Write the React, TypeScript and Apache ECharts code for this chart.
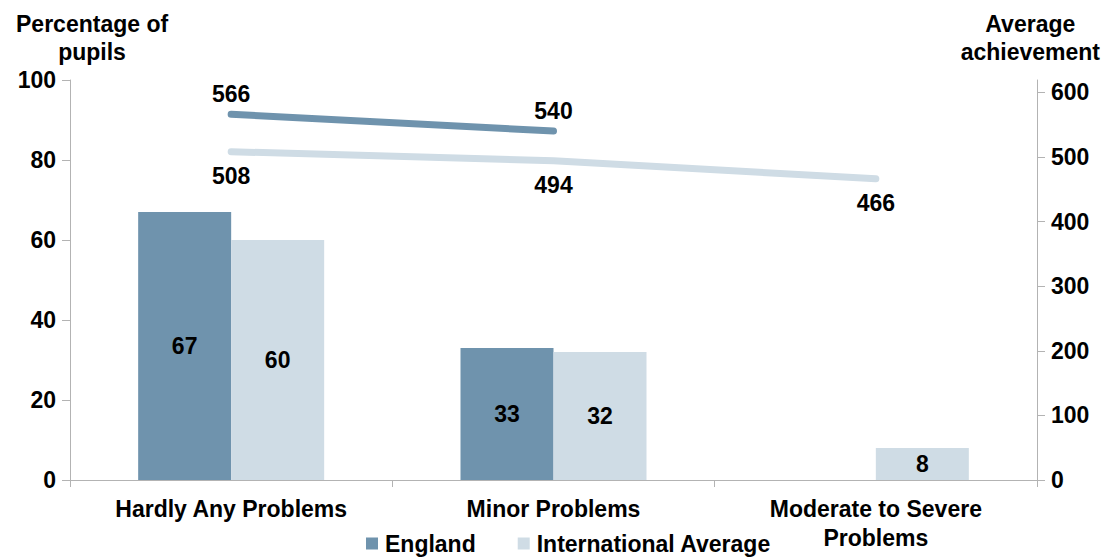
import React, { useEffect, useRef } from "react";
import * as echarts from "echarts";

const categories = ["Hardly Any Problems", "Minor Problems", "Moderate to Severe\nProblems"];
const englandPct = [67, 33, null];
const intlPct = [60, 32, 8];
const englandAch = [566, 540, null];
const intlAch = [508, 494, 466];
const leftTicks = [0, 20, 40, 60, 80, 100];
const rightTicks = [0, 100, 200, 300, 400, 500, 600];

const FONT = "'Liberation Sans', Arial, sans-serif";
const C_ENG = "#6f93ad";
const C_INT = "#cfdce5";
const AXIS = "#b3b3b3";

export default function App() {
  const ref = useRef<HTMLDivElement>(null);
  useEffect(() => {
    if (!ref.current) return;
    const chart = echarts.init(ref.current, undefined, { renderer: "svg" });
    const txt = { fontFamily: FONT, fontWeight: "bold" as const, fontSize: 23, color: "#000" };
    chart.setOption({
      animation: false,
      backgroundColor: "#fff",
      textStyle: { fontFamily: FONT },
      grid: { left: 70, right: 68, top: 80, bottom: 78, containLabel: false },
      legend: {
        top: 531,
        left: 366,
        padding: 0,
        itemWidth: 12,
        itemHeight: 12,
        itemGap: 42,
        icon: "rect",
        data: ["England", "International Average"],
        textStyle: { ...txt, fontSize: 23, lineHeight: 25, padding: [0, 0, 0, 2] },
      },
      graphic: [
        { type: "text", left: 16, top: 10, style: { text: "Percentage of\npupils", fill: "#000", font: `bold 23px ${FONT}`, textAlign: "center", lineHeight: 28 } },
        { type: "text", right: 5, top: 10, style: { text: "Average\nachievement", fill: "#000", font: `bold 23px ${FONT}`, textAlign: "center", lineHeight: 28 } },
      ],
      xAxis: {
        type: "category",
        data: categories,
        boundaryGap: true,
        axisLine: { lineStyle: { color: AXIS, width: 1 } },
        axisTick: { show: true, length: 7, lineStyle: { color: AXIS } },
        axisLabel: { ...txt, margin: 14, lineHeight: 29, interval: 0 },
      },
      yAxis: [
        {
          type: "value",
          min: 0,
          max: 100,
          interval: 20,
          position: "left",
          splitLine: { show: false },
          axisLine: { show: true, lineStyle: { color: AXIS } },
          axisTick: { show: true, length: 8, lineStyle: { color: AXIS }, customValues: leftTicks },
          axisLabel: { ...txt, margin: 14, customValues: leftTicks },
        },
        {
          type: "value",
          min: 0,
          max: 619,
          position: "right",
          splitLine: { show: false },
          axisLine: { show: true, lineStyle: { color: AXIS } },
          axisTick: { show: true, length: 8, lineStyle: { color: AXIS }, customValues: rightTicks },
          axisLabel: { ...txt, margin: 14, customValues: rightTicks },
        },
      ],
      series: [
        {
          name: "England",
          type: "bar",
          data: englandPct,
          barWidth: 93,
          barGap: "0%",
          itemStyle: { color: C_ENG },
          label: { show: true, position: "inside", ...txt },
        },
        {
          name: "International Average",
          type: "bar",
          data: intlPct,
          barWidth: 93,
          barGap: "0%",
          itemStyle: { color: C_INT },
          label: { show: true, position: "inside", ...txt },
        },
        {
          name: "England",
          type: "line",
          yAxisIndex: 1,
          data: englandAch,
          showSymbol: true,
          symbol: "circle",
          symbolSize: 2,
          lineStyle: { color: C_ENG, width: 7, cap: "round" },
          itemStyle: { color: C_ENG },
          label: { show: true, position: "top", distance: 8, ...txt },
          labelLayout: { hideOverlap: false },
        },
        {
          name: "International Average",
          type: "line",
          yAxisIndex: 1,
          data: intlAch,
          showSymbol: true,
          symbol: "circle",
          symbolSize: 2,
          lineStyle: { color: C_INT, width: 7, cap: "round" },
          itemStyle: { color: C_INT },
          label: { show: true, position: "bottom", distance: 12, ...txt },
          labelLayout: { hideOverlap: false },
        },
      ],
    });
    return () => chart.dispose();
  }, []);
  return <div ref={ref} style={{ width: 1105, height: 558, position: "absolute", left: 0, top: 0 }} />;
}
